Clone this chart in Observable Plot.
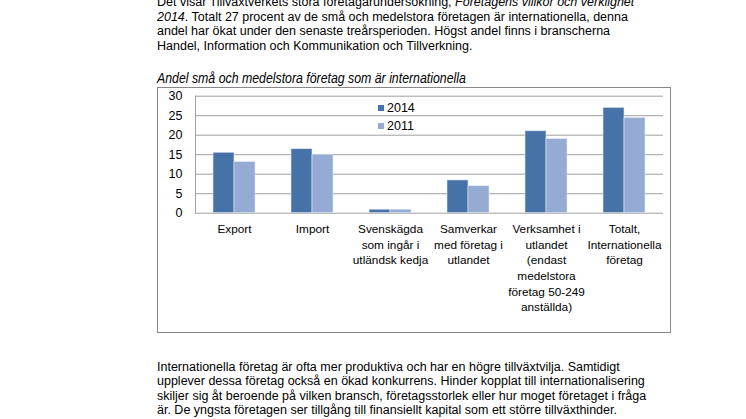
<!DOCTYPE html>
<html>
<head>
<meta charset="utf-8">
<script src="https://cdn.jsdelivr.net/npm/d3@7"></script>
<script src="https://cdn.jsdelivr.net/npm/@observablehq/plot@0.6"></script>
<style>
  html, body { margin: 0; padding: 0; }
  body { width: 746px; height: 419px; overflow: hidden; background: #fff; position: relative;
         font-family: "Liberation Sans", Arial, sans-serif; color: #000; }
  .ln { position: absolute; left: 157px; white-space: nowrap; font-size: 12.5px; line-height: 14.5px; }
  .title { position: absolute; left: 157px; top: 70px; white-space: nowrap; font-size: 14px; line-height: 16px;
           font-style: italic; transform: scaleX(0.88); transform-origin: 0 0; }
  #box { position: absolute; left: 157px; top: 87px; width: 514px; height: 246px; border: 1.5px solid #888; box-sizing: border-box; }
  #chart { position: absolute; left: 157px; top: 87px; }
  .leg { position: absolute; left: 220px; font-size: 12.5px; line-height: 14px; white-space: nowrap; }
  .leg i { display: inline-block; width: 6px; height: 6px; margin-right: 3px; vertical-align: 1px; }
</style>
</head>
<body>
<div class="ln" style="top:-5px">Det visar Tillväxtverkets stora företagarundersökning, <i>Företagens villkor och verklighet</i></div>
<div class="ln" style="top:9.5px"><i>2014</i>. Totalt 27 procent av de små och medelstora företagen är internationella, denna</div>
<div class="ln" style="top:24px">andel har ökat under den senaste treårsperioden. Högst andel finns i branscherna</div>
<div class="ln" style="top:38.5px">Handel, Information och Kommunikation och Tillverkning.</div>

<div class="title">Andel små och medelstora företag som är internationella</div>

<div id="box"><div id="legend"></div></div>
<div id="chart"></div>

<div class="ln" style="top:359.5px">Internationella företag är ofta mer produktiva och har en högre tillväxtvilja. Samtidigt</div>
<div class="ln" style="top:374px">upplever dessa företag också en ökad konkurrens. Hinder kopplat till internationalisering</div>
<div class="ln" style="top:388.5px">skiljer sig åt beroende på vilken bransch, företagsstorlek eller hur moget företaget i fråga</div>
<div class="ln" style="top:403px">är. De yngsta företagen ser tillgång till finansiellt kapital som ett större tillväxthinder.</div>

<script>
const categories = ["Export", "Import", "Svenskägda", "Samverkar", "Verksamhet", "Totalt"];
const categoryLabels = [
  "Export",
  "Import",
  "Svenskägda\nsom ingår i\nutländsk kedja",
  "Samverkar\nmed företag i\nutlandet",
  "Verksamhet i\nutlandet\n(endast\nmedelstora\nföretag 50-249\nanställda)",
  "Totalt,\nInternationella\nföretag"
];
const series = ["2014", "2011"];
const values2014 = [15.5, 16.4, 0.9, 8.4, 21.0, 27.0];
const values2011 = [13.1, 15.0, 0.9, 6.9, 19.0, 24.4];
const yTicks = [0, 5, 10, 15, 20, 25, 30];
const colors = ["#4672a8", "#95abd3"];

const rows = categories.flatMap((c, i) => [
  {cat: c, year: series[0], value: values2014[i]},
  {cat: c, year: series[1], value: values2011[i]}
]);

const chart = Plot.plot({
  width: 513,
  height: 244,
  marginLeft: 36,
  marginRight: 6,
  marginTop: 8.7,
  marginBottom: 118.3,
  style: {fontFamily: "'Liberation Sans', Arial, sans-serif", color: "#000", background: "transparent", overflow: "visible"},
  fx: {domain: categories, padding: 0, label: null},
  x: {domain: series, paddingInner: 0, paddingOuter: 0.78, axis: null},
  y: {domain: [0, 30], axis: null},
  color: {domain: series, range: colors},
  marks: [
    Plot.gridY(yTicks, {stroke: "#a0a0a0", strokeOpacity: 1}),
    Plot.frame({anchor: "left", facetAnchor: "left", stroke: "#a0a0a0"}),
    Plot.barY(rows, {fx: "cat", x: "year", y: "value", fill: "year", stroke: "#dfe6f0", strokeWidth: 0.6}),
    Plot.axisY(yTicks, {tickSize: 0, tickPadding: 13, fontSize: 12.5, label: null}),
    Plot.axisFx({anchor: "bottom", tickSize: 0, tickPadding: 9, fontSize: 11.8, lineHeight: 1.32,
                 label: null, tickFormat: d => categoryLabels[categories.indexOf(d)]})
  ]
});
document.getElementById("chart").appendChild(chart);

const legend = document.getElementById("legend");
series.forEach((s, i) => {
  const d = document.createElement("div");
  d.className = "leg";
  d.style.top = (13 + i * 18) + "px";
  d.innerHTML = `<i style="background:${colors[i]}"></i>${s}`;
  legend.appendChild(d);
});
</script>
</body>
</html>
